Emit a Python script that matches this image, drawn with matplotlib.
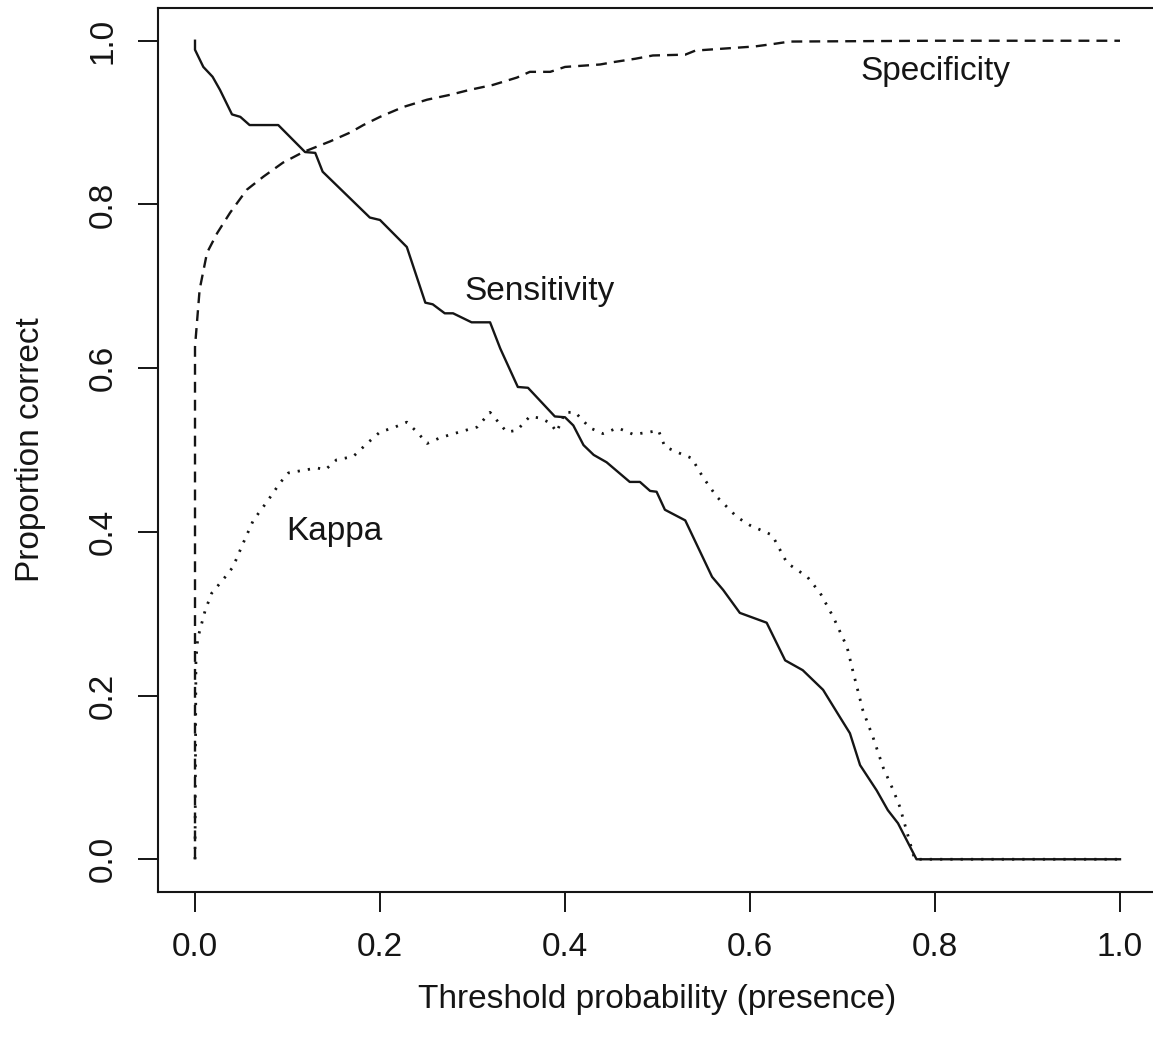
import matplotlib
matplotlib.use("Agg")
import matplotlib.pyplot as plt

# Sensitivity (solid)
sens_x = [0.0, 0.0, 0.009, 0.019, 0.027, 0.040, 0.049, 0.059, 0.090, 0.119, 0.130, 0.138,
          0.189, 0.200, 0.229, 0.249, 0.257, 0.270, 0.279, 0.299, 0.319, 0.330, 0.349,
          0.360, 0.389, 0.400, 0.409, 0.420, 0.431, 0.445, 0.470, 0.481, 0.492, 0.499,
          0.508, 0.530, 0.559, 0.571, 0.589, 0.618, 0.638, 0.657, 0.679, 0.697, 0.708,
          0.719, 0.737, 0.749, 0.760, 0.780, 1.0]
sens_y = [1.0, 0.989, 0.968, 0.956, 0.940, 0.910, 0.907, 0.897, 0.897, 0.864, 0.863, 0.840,
          0.784, 0.781, 0.748, 0.680, 0.678, 0.667, 0.667, 0.656, 0.656, 0.624, 0.577,
          0.576, 0.541, 0.540, 0.530, 0.506, 0.494, 0.485, 0.461, 0.461, 0.450, 0.449,
          0.427, 0.414, 0.345, 0.329, 0.301, 0.289, 0.243, 0.231, 0.207, 0.174, 0.154,
          0.115, 0.084, 0.060, 0.044, 0.0, 0.0]

# Specificity (dashed)
spec_x = [0.0, 0.0, 0.005, 0.013, 0.024, 0.038, 0.056, 0.074, 0.095, 0.117, 0.146, 0.168,
          0.182, 0.200, 0.225, 0.251, 0.276, 0.297, 0.322, 0.348, 0.362, 0.384, 0.400,
          0.438, 0.453, 0.476, 0.495, 0.530, 0.541, 0.605, 0.625, 0.643, 0.800, 1.0]
spec_y = [0.0, 0.626, 0.696, 0.741, 0.765, 0.790, 0.818, 0.834, 0.851, 0.864, 0.877, 0.888,
          0.897, 0.907, 0.919, 0.928, 0.934, 0.940, 0.946, 0.955, 0.962, 0.962, 0.968,
          0.971, 0.974, 0.978, 0.982, 0.983, 0.988, 0.993, 0.996, 0.999, 1.0, 1.0]

# Kappa (dotted)
kappa_x = [0.0, 0.001, 0.003, 0.011, 0.018, 0.032, 0.041, 0.052, 0.063, 0.078, 0.092, 0.101,
           0.121, 0.132, 0.141, 0.153, 0.171, 0.186, 0.200, 0.214, 0.229, 0.240, 0.251,
           0.265, 0.286, 0.305, 0.319, 0.337, 0.348, 0.362, 0.373, 0.384, 0.391, 0.400,
           0.411, 0.427, 0.441, 0.457, 0.474, 0.492, 0.501, 0.508, 0.524, 0.537, 0.549,
           0.564, 0.586, 0.600, 0.624, 0.640, 0.662, 0.676, 0.690, 0.705, 0.711, 0.722,
           0.733, 0.744, 0.755, 0.762, 0.778, 1.0]
kappa_y = [0.0, 0.243, 0.270, 0.304, 0.325, 0.344, 0.357, 0.386, 0.414, 0.437, 0.460, 0.472,
           0.476, 0.478, 0.476, 0.488, 0.492, 0.508, 0.522, 0.527, 0.534, 0.522, 0.508,
           0.515, 0.522, 0.528, 0.546, 0.522, 0.524, 0.541, 0.539, 0.533, 0.522, 0.546,
           0.546, 0.527, 0.520, 0.527, 0.519, 0.522, 0.524, 0.504, 0.496, 0.490, 0.467,
           0.443, 0.418, 0.408, 0.396, 0.362, 0.345, 0.325, 0.296, 0.259, 0.231, 0.182,
           0.149, 0.112, 0.084, 0.064, 0.0, 0.0]

ticks = [0.0, 0.2, 0.4, 0.6, 0.8, 1.0]
tick_labels = ["0.0", "0.2", "0.4", "0.6", "0.8", "1.0"]

plt.rcParams["font.family"] = ["Liberation Sans", "DejaVu Sans"]
ink = "#151515"
fs = 24

fig = plt.figure(figsize=(11.53, 10.49), dpi=100)
ax = fig.add_axes([158 / 1153, 157 / 1049, 999 / 1153, 884 / 1049])

ax.plot(sens_x, sens_y, color=ink, lw=1.7, solid_joinstyle="round")
ax.plot(spec_x, spec_y, color=ink, lw=1.7, dashes=(4.6, 3.0))
ax.plot(kappa_x, kappa_y, color=ink, lw=2.0, dashes=(0.8, 2.9))

ax.text(0.80, 0.962, "Specificity", fontsize=fs, color=ink, ha="center", va="center")
ax.text(0.373, 0.694, "Sensitivity", fontsize=fs, color=ink, ha="center", va="center")
ax.text(0.151, 0.401, "Kappa", fontsize=fs, color=ink, ha="center", va="center")

ax.set_xlim(-0.04, 1.04)
ax.set_ylim(-0.04, 1.04)
ax.set_xticks(ticks)
ax.set_xticklabels(tick_labels)
ax.set_yticks(ticks)
ax.set_yticklabels(tick_labels, rotation=90, va="center")
ax.tick_params(direction="out", length=14.5, width=1.4, color=ink, labelcolor=ink,
               labelsize=fs, pad=14)

for side in ["left", "bottom", "top", "right"]:
    ax.spines[side].set_linewidth(1.5)
    ax.spines[side].set_color(ink)

ax.set_xlabel("Threshold probability (presence)", fontsize=fs, color=ink, va="center")
ax.set_ylabel("Proportion correct", fontsize=fs, color=ink, va="center")
ax.xaxis.set_label_coords(0.5, -0.122)
ax.yaxis.set_label_coords(-0.128, 0.5)

fig.savefig("out.png", dpi=100)
